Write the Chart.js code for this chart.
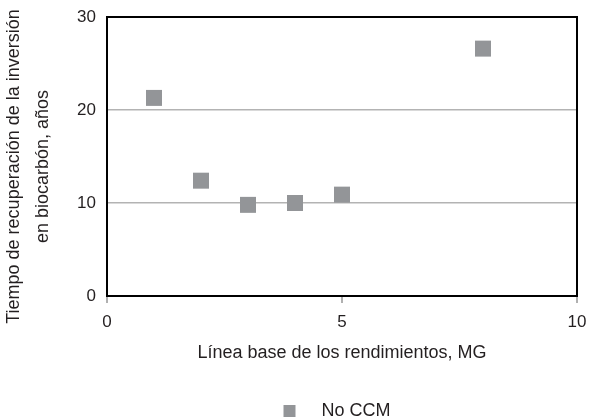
<!DOCTYPE html>
<html>
<head>
<meta charset="utf-8">
<script src="https://cdn.jsdelivr.net/npm/chart.js@4.4.1/dist/chart.umd.min.js"></script>
<style>
  html, body { margin: 0; padding: 0; background: #fff; }
  #wrap { width: 589px; height: 418px; }
</style>
</head>
<body>
<div id="wrap"><canvas id="chart" width="589" height="418"></canvas></div>
<script>
// data
const yieldBaseline = [1, 2, 3, 4, 5, 8];
const paybackYears = [21.3, 12.4, 9.8, 10.0, 10.9, 26.6];
const seriesLabel = 'No CCM';
const xTitle = 'Línea base de los rendimientos, MG';
const yTitle = ['Tiempo de recuperación de la inversión    ', 'en biocarbón, años    '];

const textColor = '#231f20';
const markColor = '#939598';
const fontFamily = '"Liberation Sans", Arial, sans-serif';

// legend swatch: square placed inside a wider blank image so the text sits further right
function legendSwatch() {
    const c = document.createElement('canvas');
    c.width = 126;
    c.height = 12;
    const g = c.getContext('2d');
    g.fillStyle = markColor;
    g.fillRect(97, 0, 12, 12);
    return c;
}

// top and right edges of the plot frame
const frame = {
    id: 'frame',
    afterDatasetsDraw(chart) {
        const { ctx, chartArea: a } = chart;
        ctx.save();
        ctx.strokeStyle = '#000';
        ctx.lineWidth = 2;
        ctx.beginPath();
        ctx.moveTo(a.left, a.top);
        ctx.lineTo(a.right, a.top);
        ctx.lineTo(a.right, a.bottom);
        ctx.stroke();
        ctx.restore();
    }
};

const ctx = document.getElementById('chart').getContext('2d');
new Chart(ctx, {
    type: 'scatter',
    data: {
        datasets: [{
            label: seriesLabel,
            data: yieldBaseline.map((x, i) => ({ x: x, y: paybackYears[i] })),
            backgroundColor: markColor,
            borderWidth: 0,
            pointStyle: 'rect',
            pointRadius: 11.3,
            pointHoverRadius: 11.3
        }]
    },
    options: {
        responsive: false,
        animation: false,
        layout: { padding: { top: 17, right: 12, left: 0, bottom: -12 } },
        scales: {
            x: {
                type: 'linear',
                min: 0,
                max: 10,
                ticks: { stepSize: 5, color: textColor, font: { family: fontFamily, size: 17 }, padding: 9 },
                grid: { drawOnChartArea: false, drawTicks: true, tickLength: 7, color: '#b0b0b0', lineWidth: 2 },
                border: { display: true, color: '#000', width: 2 },
                title: { display: true, text: xTitle, color: textColor, font: { family: fontFamily, size: 18 }, padding: { top: 0, bottom: 34 } },
                afterFit(scale) {
                    scale.height = 102;
                    scale.paddingLeft = 0;
                    scale.paddingRight = 0;
                }
            },
            y: {
                min: 0,
                max: 30,
                ticks: { stepSize: 10, color: textColor, font: { family: fontFamily, size: 17 }, padding: 11 },
                grid: { color: '#b3b3b3', lineWidth: 1.5, drawTicks: false },
                border: { display: true, color: '#000', width: 2 },
                title: { display: true, text: yTitle, color: textColor, font: { family: fontFamily, size: 18, lineHeight: 1.6 }, padding: { top: 0, bottom: 0 } },
                afterFit(scale) {
                    scale.width = 107;
                    scale.paddingTop = 0;
                    scale.paddingBottom = 0;
                }
            }
        },
        plugins: {
            legend: {
                position: 'bottom',
                labels: {
                    usePointStyle: true,
                    pointStyle: legendSwatch(),
                    pointStyleWidth: 126,
                    boxHeight: 12,
                    color: textColor,
                    font: { family: fontFamily, size: 18 },
                    padding: 4
                }
            },
            tooltip: { enabled: false }
        }
    },
    plugins: [frame]
});
</script>
</body>
</html>
